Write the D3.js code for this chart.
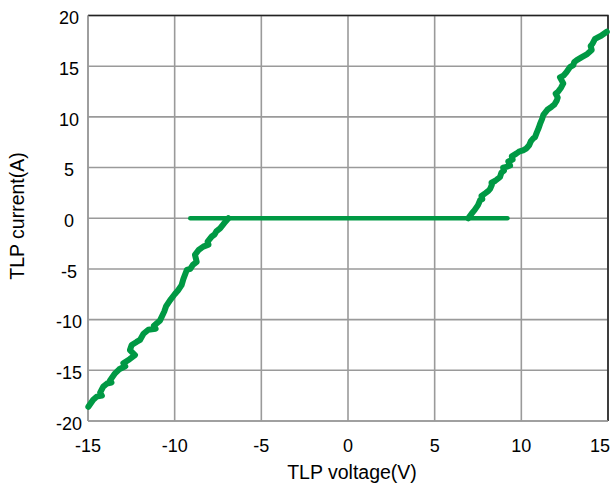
<!DOCTYPE html>
<html>
<head>
<meta charset="utf-8">
<script src="https://cdn.jsdelivr.net/npm/d3@7"></script>
<style>
  html, body { margin: 0; padding: 0; background: #fff; }
  svg { display: block; font-family: "Liberation Sans", Arial, sans-serif; }
</style>
</head>
<body>
<svg id="chart" width="611" height="486"></svg>
<script>
const xTicks = [-15, -10, -5, 0, 5, 10, 15];
const yTicks = [-20, -15, -10, -5, 0, 5, 10, 15, 20];
const xTitle = "TLP voltage(V)";
const yTitle = "TLP current(A)";

// positive snapback branch (voltage V, current A)
const posV = [6.94, 7.15, 7.3, 7.5, 7.62, 7.75, 7.7, 7.95, 8.1, 8.2, 8.3, 8.28, 8.5, 8.65, 8.77, 8.85, 9.0, 8.95, 9.2, 9.35, 9.25, 9.5, 9.45, 9.73, 9.9, 10.1, 10.3, 10.45, 10.55, 10.7, 10.79, 10.9, 11.0, 11.08, 11.2, 11.27, 11.5, 11.75, 11.9, 12.04, 12.1, 11.98, 12.13, 12.3, 12.42, 12.23, 12.45, 12.6, 12.8, 13.0, 13.05, 13.2, 13.49, 13.8, 14.06, 14.0, 14.1, 14.25, 14.6, 14.93];
const posI = [0, 0.5, 0.8, 1.3, 1.78, 1.9, 2.2, 2.5, 2.7, 2.9, 3.3, 3.5, 3.7, 3.9, 4.07, 4.5, 4.7, 5.0, 5.1, 5.2, 5.6, 5.8, 6.1, 6.4, 6.6, 6.7, 6.9, 7.2, 7.6, 7.9, 8.0, 8.5, 8.9, 9.3, 9.8, 10.2, 10.7, 11.0, 11.2, 11.6, 11.9, 12.3, 12.5, 12.9, 13.3, 13.9, 14.1, 14.4, 14.9, 15.1, 15.4, 15.6, 15.9, 16.2, 16.6, 17.0, 17.2, 17.7, 18.0, 18.4];
// negative branch
const negV = [-6.9, -7.15, -7.38, -7.6, -7.7, -7.86, -8.1, -8.05, -8.35, -8.6, -8.83, -8.73, -8.95, -9.1, -9.3, -9.5, -9.6, -9.8, -10.0, -10.27, -10.5, -10.6, -10.85, -11.2, -11.1, -11.52, -11.8, -12.0, -12.2, -12.48, -12.58, -12.29, -12.6, -12.96, -12.85, -13.2, -13.44, -13.73, -13.65, -13.9, -14.12, -14.3, -14.2, -14.5, -14.7, -14.98];
const negI = [0, -0.5, -1.0, -1.3, -1.6, -1.8, -2.3, -2.6, -2.8, -3.1, -3.6, -4.3, -4.6, -5.0, -5.1, -6.0, -6.6, -7.1, -7.5, -8.1, -8.7, -9.2, -10.1, -10.6, -10.9, -11.0, -11.4, -12.0, -12.2, -12.5, -13.0, -13.5, -13.9, -14.3, -14.6, -14.9, -15.3, -16.0, -16.2, -16.3, -16.6, -17.2, -17.5, -17.6, -17.9, -18.6];
// leakage (off-state) segment
const flatV = [-9.1, 9.2];
const flatI = [0, 0];

const svg = d3.select("#chart");
const x = d3.scaleLinear().domain([-15, 15]).range([88, 608]);
const y = d3.scaleLinear().domain([-20, 20]).range([421, 15.5]);
const grid = "#9a9a9a";
const green = "#009944";

// grid
svg.append("g").selectAll("line").data(xTicks).join("line")
  .attr("x1", d => x(d)).attr("x2", d => x(d))
  .attr("y1", y(20)).attr("y2", y(-20))
  .attr("stroke", grid).attr("stroke-width", 1.6);
svg.append("g").selectAll("line").data(yTicks).join("line")
  .attr("x1", x(-15)).attr("x2", x(15))
  .attr("y1", d => y(d)).attr("y2", d => y(d))
  .attr("stroke", grid).attr("stroke-width", 1.6);
// top & right border
svg.append("path")
  .attr("d", `M${x(-15)},${y(20)}H${x(15)}V${y(-20)}`)
  .attr("fill", "none").attr("stroke", "#222").attr("stroke-width", 1.6);
svg.append("line").attr("x1", x(-15)).attr("x2", x(-15)).attr("y1", y(20)).attr("y2", y(-20))
  .attr("stroke", grid).attr("stroke-width", 1.6);
svg.append("line").attr("x1", x(-15)).attr("x2", x(15)).attr("y1", y(-20)).attr("y2", y(-20))
  .attr("stroke", grid).attr("stroke-width", 1.6);

// data
const line = d3.line().x(d => x(d[0])).y(d => y(d[1]));
svg.append("path").datum(d3.zip(flatV, flatI)).attr("d", line)
  .attr("fill", "none").attr("stroke", green).attr("stroke-width", 4.5).attr("stroke-linecap", "round");
[[posV, posI], [negV, negI]].forEach(([v, i]) => {
  svg.append("path").datum(d3.zip(v, i)).attr("d", line)
    .attr("fill", "none").attr("stroke", green).attr("stroke-width", 6)
    .attr("stroke-linejoin", "round").attr("stroke-linecap", "round");
});

// tick labels
svg.append("g").selectAll("text").data(xTicks).join("text")
  .attr("x", d => d === 15 ? x(d) + 2 : x(d))
  .attr("y", 452)
  .attr("text-anchor", d => d === 15 ? "end" : "middle")
  .attr("font-size", 18).attr("fill", "#000")
  .text(d => d);
svg.append("g").selectAll("text").data(yTicks).join("text")
  .attr("x", 69)
  .attr("y", d => y(d))
  .attr("dy", "0.48em")
  .attr("text-anchor", "middle")
  .attr("font-size", 18).attr("fill", "#000")
  .text(d => d);

// titles
svg.append("text").attr("x", 352).attr("y", 479).attr("text-anchor", "middle")
  .attr("font-size", 19.5).attr("fill", "#000").text(xTitle);
svg.append("text").attr("transform", "translate(24,216) rotate(-90)")
  .attr("text-anchor", "middle").attr("font-size", 19.5).attr("fill", "#000").text(yTitle);
</script>
</body>
</html>
